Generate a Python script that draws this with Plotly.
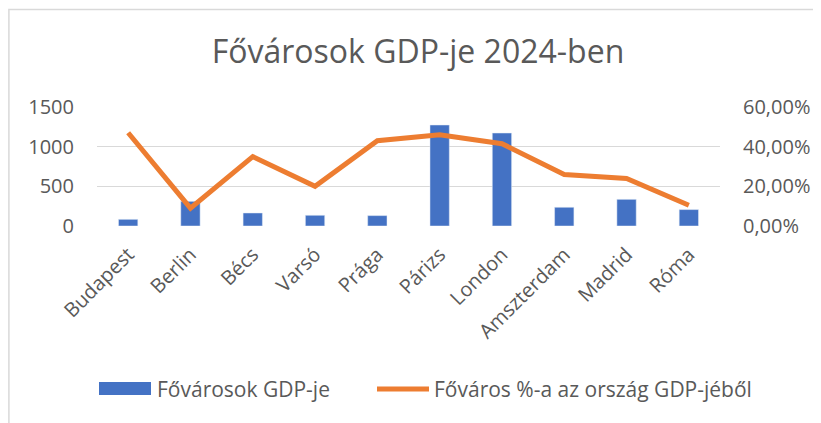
import plotly.graph_objects as go

cities = ["Budapest", "Berlin", "Bécs", "Varsó", "Prága", "Párizs", "London", "Amszterdam", "Madrid", "Róma"]
gdp = [84, 311, 164, 135, 131, 1273, 1172, 236, 336, 207]
share = [0.47, 0.09, 0.35, 0.20, 0.43, 0.46, 0.415, 0.26, 0.24, 0.105]

bar_name = "Fővárosok GDP-je"
line_name = "Főváros %-a az ország GDP-jéből"
title_text = "Fővárosok GDP-je 2024-ben"

# the page has an 8px body margin; lay the figure out in page coordinates minus that offset
OFF = 8
W, H = 821 - OFF, 423 - OFF
L, T = 97 - OFF, 107 - OFF
R, B = 101, 197
PW, PH = W - L - R, H - T - B

def px(x):
    return (x - OFF - L) / PW

def py(y):
    return (H - B - (y - OFF)) / PH

FONT = "Open Sans"
TXT = "#595959"
BLUE = "#4472C4"
ORANGE = "#ED7D31"
GRID = "#D9D9D9"

fig = go.Figure()
fig.add_trace(go.Bar(x=cities, y=gdp, name=bar_name, marker=dict(color=BLUE), yaxis="y", showlegend=False))
fig.add_trace(go.Scatter(x=cities, y=share, name=line_name, mode="lines",
                         line=dict(color=ORANGE, width=5), yaxis="y2", showlegend=False))

fig.update_layout(
    width=W, height=H,
    margin=dict(l=L, r=R, t=T, b=B),
    paper_bgcolor="white", plot_bgcolor="white",
    separators=", ",
    bargap=0.69,
    font=dict(family=FONT, color=TXT, size=20),
    title=dict(text=title_text, x=(418 - OFF) / W, xanchor="center", y=1 - (52 - OFF) / H, yanchor="middle",
               font=dict(family=FONT, size=32, color=TXT)),
    xaxis=dict(tickangle=-45, showgrid=False, showline=False, ticks="",
               tickfont=dict(size=20, color=TXT), ticklabelstandoff=12),
    yaxis=dict(range=[0, 1500], dtick=500, showgrid=True, gridcolor=GRID, gridwidth=1.3,
               zeroline=False, showline=False, ticks="", tickfont=dict(size=20, color=TXT),
               ticklabelstandoff=22),
    yaxis2=dict(range=[0, 0.6], dtick=0.2, tickformat=".2%", overlaying="y", side="right",
                showgrid=False, zeroline=False, showline=False, ticks="",
                tickfont=dict(size=20, color=TXT), ticklabelstandoff=22),
    showlegend=False,
)

# chart area border (top and left edges visible)
fig.add_shape(type="rect", xref="paper", yref="paper", x0=px(8.9), x1=px(840), y0=py(440), y1=py(9.5),
              line=dict(color=GRID, width=1.5), fillcolor="rgba(0,0,0,0)", layer="below")

# custom legend
fig.add_shape(type="rect", xref="paper", yref="paper", x0=px(99), x1=px(151), y0=py(395), y1=py(382),
              line=dict(width=0), fillcolor=BLUE)
fig.add_shape(type="line", xref="paper", yref="paper", x0=px(377), x1=px(429), y0=py(389), y1=py(389),
              line=dict(color=ORANGE, width=5))
fig.add_annotation(text=bar_name, xref="paper", yref="paper", x=px(155), y=py(389),
                   xanchor="left", yanchor="middle", showarrow=False,
                   font=dict(family=FONT, size=21, color=TXT))
fig.add_annotation(text=line_name, xref="paper", yref="paper", x=px(432), y=py(389),
                   xanchor="left", yanchor="middle", showarrow=False,
                   font=dict(family=FONT, size=21, color=TXT))

fig.write_html("out.html")
